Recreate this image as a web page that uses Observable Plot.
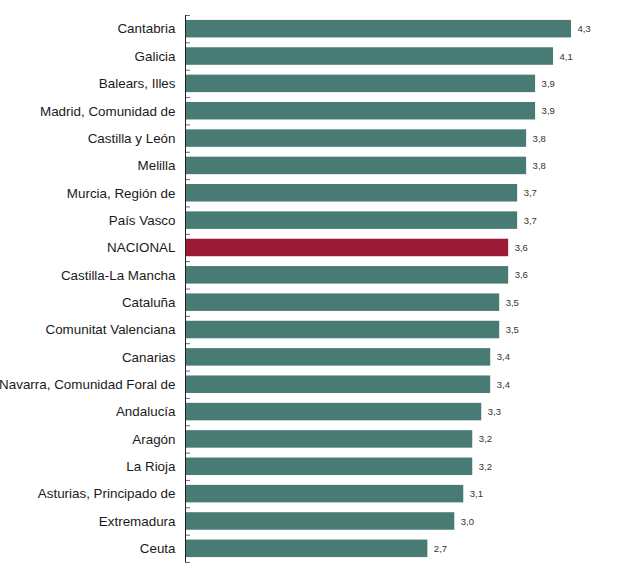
<!DOCTYPE html>
<html>
<head>
<meta charset="utf-8">
<script src="https://cdn.jsdelivr.net/npm/d3@7"></script>
<script src="https://cdn.jsdelivr.net/npm/@observablehq/plot@0.6"></script>
<style>
  body { margin: 0; background: #fff; }
  #chart svg { display: block; }
</style>
</head>
<body>
<div id="chart"></div>
<script>
const regions = [
  "Cantabria", "Galicia", "Balears, Illes", "Madrid, Comunidad de",
  "Castilla y León", "Melilla", "Murcia, Región de", "País Vasco",
  "NACIONAL", "Castilla-La Mancha", "Cataluña", "Comunitat Valenciana",
  "Canarias", "Navarra, Comunidad Foral de", "Andalucía", "Aragón",
  "La Rioja", "Asturias, Principado de", "Extremadura", "Ceuta"
];
const values = [4.3, 4.1, 3.9, 3.9, 3.8, 3.8, 3.7, 3.7, 3.6, 3.6, 3.5, 3.5, 3.4, 3.4, 3.3, 3.2, 3.2, 3.1, 3.0, 2.7];
const highlight = "NACIONAL";

const data = regions.map((r, i) => ({region: r, value: values[i]}));

const W = 623, H = 584, mTop = 15, mBottom = 22, mLeft = 185, mRight = 52;
const step = (H - mTop - mBottom) / regions.length;
const lastRegion = regions[regions.length - 1];

const chart = Plot.plot({
  width: W,
  height: H,
  marginTop: mTop,
  marginBottom: mBottom,
  marginLeft: mLeft,
  marginRight: mRight,
  style: {fontFamily: "'Liberation Sans', Arial, sans-serif", background: "#fff"},
  x: {domain: [0, 4.3], axis: null},
  y: {domain: regions, paddingInner: 0.36, paddingOuter: 0.18, round: false, label: null},
  marks: [
    Plot.barX(data, {
      y: "region", x: "value",
      fill: d => d.region === highlight ? "#9b1b36" : "#487b73"
    }),
    Plot.text(data, {
      y: "region", x: "value",
      text: d => d.value.toFixed(1).replace(".", ","),
      textAnchor: "start", dx: 6, fontSize: 9.5, fill: "#333"
    }),
    Plot.ruleY(regions, {y: d => d, x1: 0, x2: 0.055, dy: -step / 2, stroke: "#666"}),
    Plot.ruleY([lastRegion], {y: d => d, x1: 0, x2: 0.055, dy: step / 2, stroke: "#666"}),
    Plot.ruleX([0], {stroke: "#222"}),
    Plot.axisY({tickSize: 0, tickPadding: 10, fontSize: 13.4, color: "#1a1a1a", label: null})
  ]
});
document.getElementById("chart").appendChild(chart);
</script>
</body>
</html>
